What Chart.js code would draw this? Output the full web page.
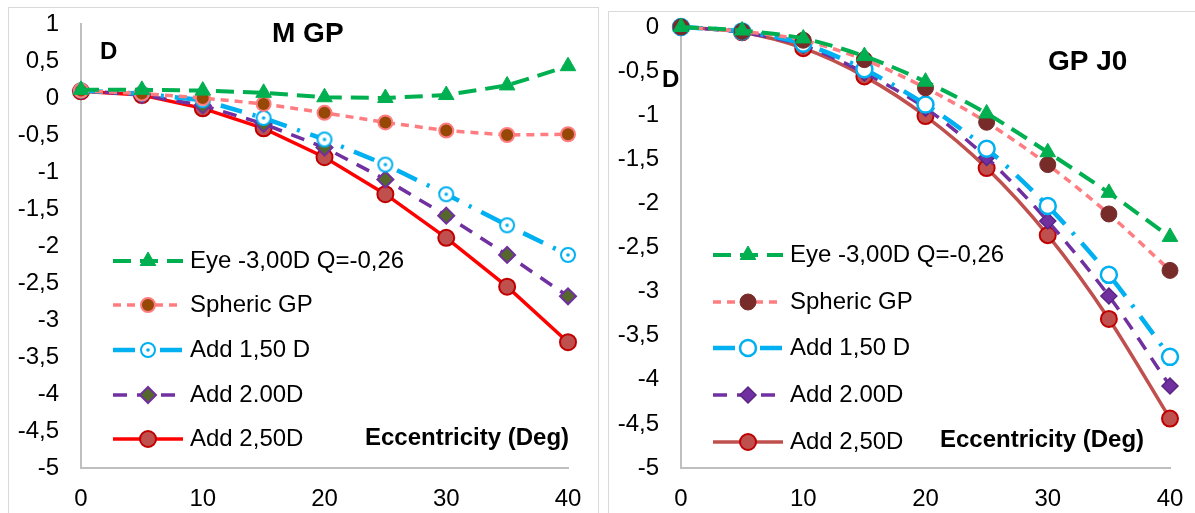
<!DOCTYPE html>
<html>
<head>
<meta charset="utf-8">
<script src="https://cdn.jsdelivr.net/npm/chart.js@4.4.1/dist/chart.umd.min.js"></script>
<style>
  body { margin: 0; background: #fff; width: 1195px; height: 513px; overflow: hidden; position: relative; }
  .panel { position: absolute; border: 1px solid #d9d9d9; box-sizing: border-box; }
  #p1 { left: 8px; top: 7px; width: 591px; height: 530px; }
  #p2 { left: 608px; top: 11px; width: 620px; height: 530px; }
  canvas { position: absolute; }
  #c1 { left: 8px; top: 7px; width: 590px; height: 506px; }
  #c2 { left: 608px; top: 11px; width: 587px; height: 502px; }
</style>
</head>
<body>
<div class="panel" id="p1"></div>
<div class="panel" id="p2"></div>
<canvas id="c1" width="590" height="506"></canvas>
<canvas id="c2" width="587" height="502"></canvas>
<script>
// data ===========

const eccentricity = [0, 5, 10, 15, 20, 25, 30, 35, 40];
const seriesNames = ["Eye -3,00D Q=-0,26", "Spheric GP", "Add 1,50 D", "Add 2.00D", "Add 2,50D"];

// M GP panel
const mgpEye = [0.11, 0.11, 0.1, 0.07, 0.01, 0.0, 0.04, 0.17, 0.43];
const mgpSpheric = [0.1, 0.06, 0.0, -0.08, -0.2, -0.33, -0.44, -0.5, -0.49];
const mgpAdd150 = [0.1, 0.06, -0.03, -0.27, -0.56, -0.9, -1.3, -1.72, -2.12];
const mgpAdd200 = [0.1, 0.04, -0.1, -0.35, -0.67, -1.1, -1.59, -2.12, -2.68];
const mgpAdd250 = [0.09, 0.04, -0.14, -0.41, -0.8, -1.3, -1.89, -2.55, -3.3];

// GP J0 panel
const j0Eye = [0, -0.04, -0.13, -0.33, -0.62, -0.98, -1.42, -1.88, -2.38];
const j0Spheric = [0, -0.05, -0.15, -0.37, -0.69, -1.08, -1.56, -2.12, -2.76];
const j0Add150 = [0, -0.05, -0.19, -0.48, -0.88, -1.38, -2.03, -2.81, -3.74];
const j0Add200 = [0, -0.06, -0.21, -0.52, -0.92, -1.48, -2.2, -3.05, -4.07];
const j0Add250 = [0, -0.06, -0.24, -0.56, -1.01, -1.6, -2.36, -3.31, -4.44];

// end data ===========

const FONT = "'Liberation Sans', Arial, sans-serif";
Chart.defaults.font.family = FONT;
Chart.defaults.color = "#000";

// open circle with a dot (left Add 1,50 D marker)
function dotCircle() {
  const c = document.createElement("canvas");
  c.width = 18; c.height = 18;
  const g = c.getContext("2d");
  g.beginPath(); g.arc(9, 9, 7, 0, Math.PI * 2);
  g.fillStyle = "#fff"; g.fill();
  g.lineWidth = 2; g.strokeStyle = "#00B0F0"; g.stroke();
  g.beginPath(); g.arc(9, 9, 1.8, 0, Math.PI * 2);
  g.fillStyle = "#00B0F0"; g.fill();
  return c;
}

const leftStyles = [
  { borderColor: "#00B050", borderWidth: 4, borderDash: [18, 9], pointStyle: "triangle", pointRadius: 9, pointBackgroundColor: "#00B050", pointBorderColor: "#00B050", pointBorderWidth: 1 },
  { borderColor: "#FF7C80", borderWidth: 3.5, borderDash: [8, 6], pointStyle: "circle", pointRadius: 7, pointBackgroundColor: "#974706", pointBorderColor: "#FF7C80", pointBorderWidth: 2 },
  { borderColor: "#00B0F0", borderWidth: 4.5, borderDash: [22, 11, 3, 11], pointStyle: dotCircle(), pointRadius: 7, pointBackgroundColor: "#fff", pointBorderColor: "#00B0F0", pointBorderWidth: 2 },
  { borderColor: "#7030A0", borderWidth: 3.5, borderDash: [14, 10], pointStyle: "rectRot", pointRadius: 8, pointBackgroundColor: "#56672C", pointBorderColor: "#7030A0", pointBorderWidth: 2 },
  { borderColor: "#FF0000", borderWidth: 3.5, borderDash: [], pointStyle: "circle", pointRadius: 8, pointBackgroundColor: "#C0504D", pointBorderColor: "#C00000", pointBorderWidth: 2 },
];

const rightStyles = [
  { borderColor: "#00B050", borderWidth: 4, borderDash: [18, 9], pointStyle: "triangle", pointRadius: 9, pointBackgroundColor: "#00B050", pointBorderColor: "#00B050", pointBorderWidth: 1 },
  { borderColor: "#FF7C80", borderWidth: 3.5, borderDash: [8, 6], pointStyle: "circle", pointRadius: 8, pointBackgroundColor: "#772C2A", pointBorderColor: "#772C2A", pointBorderWidth: 1 },
  { borderColor: "#00B0F0", borderWidth: 4.5, borderDash: [22, 11, 3, 11], pointStyle: "circle", pointRadius: 8, pointBackgroundColor: "#fff", pointBorderColor: "#00B0F0", pointBorderWidth: 2.5 },
  { borderColor: "#7030A0", borderWidth: 3.5, borderDash: [14, 10], pointStyle: "rectRot", pointRadius: 8, pointBackgroundColor: "#7030A0", pointBorderColor: "#5A2585", pointBorderWidth: 1.5 },
  { borderColor: "#C0504D", borderWidth: 3.5, borderDash: [], pointStyle: "circle", pointRadius: 8, pointBackgroundColor: "#C0504D", pointBorderColor: "#C00000", pointBorderWidth: 2 },
];

// legend + free text drawn in the plot
const panelText = {
  id: "panelText",
  afterDatasetsDraw(chart, args, o) {
    const ctx = chart.ctx;
    ctx.save();
    chart.data.datasets.forEach((ds, i) => {
      const y = o.rows[i];
      ctx.beginPath();
      ctx.setLineDash(ds.borderDash || []);
      ctx.lineWidth = ds.borderWidth;
      ctx.strokeStyle = ds.borderColor;
      ctx.moveTo(o.lineFrom, y);
      ctx.lineTo(o.lineTo, y);
      ctx.stroke();
      ctx.setLineDash([]);
      ctx.fillStyle = ds.pointBackgroundColor;
      ctx.strokeStyle = ds.pointBorderColor;
      ctx.lineWidth = ds.pointBorderWidth;
      Chart.helpers.drawPoint(ctx, { pointStyle: ds.pointStyle, radius: ds.pointRadius, rotation: 0, borderWidth: ds.pointBorderWidth }, (o.lineFrom + o.lineTo) / 2, y);
      ctx.fillStyle = "#000";
      ctx.font = "24px " + FONT;
      ctx.textBaseline = "middle";
      ctx.textAlign = "left";
      ctx.fillText(ds.label, o.textX, y);
    });
    ctx.textBaseline = "alphabetic";
    o.texts.forEach(t => {
      ctx.font = t.font + " " + FONT;
      ctx.fillText(t.text, t.x, t.y);
    });
    ctx.restore();
  },
};

function makeChart(id, series, styles, yMin, yMax, pad, extra) {
  const datasets = series.map((vals, i) => Object.assign({
    label: seriesNames[i],
    data: eccentricity.map((x, k) => ({ x: x, y: vals[k] })),
    fill: false,
    clip: false,
    tension: extra.tension,
  }, styles[i]));

  return new Chart(document.getElementById(id).getContext("2d"), {
    type: "line",
    data: { datasets: datasets },
    plugins: [panelText],
    options: {
      responsive: false,
      animation: false,
      layout: { padding: pad },
      plugins: {
        legend: { display: false },
        tooltip: { enabled: false },
        panelText: extra.text,
      },
      scales: {
        x: {
          type: "linear", min: 0, max: 40,
          ticks: { stepSize: 10, padding: 17, font: { size: 24 } },
          grid: { drawOnChartArea: false, drawTicks: false },
          border: { color: "#BFBFBF", width: 2 },
          afterFit: s => { s.height = 45; s.paddingLeft = 0; s.paddingRight = 0; },
        },
        y: {
          min: yMin, max: yMax,
          ticks: { stepSize: 0.5, padding: 22, font: { size: 24 }, callback: v => String(v).replace(".", ",") },
          grid: { drawOnChartArea: false, drawTicks: false },
          border: { color: "#BFBFBF", width: 2 },
          afterFit: s => { s.width = 73; s.paddingTop = 0; s.paddingBottom = 0; },
        },
      },
    },
  });
}

// M GP =====
makeChart("c1", [mgpEye, mgpSpheric, mgpAdd150, mgpAdd200, mgpAdd250], leftStyles, -5, 1,
  { top: 17, right: 30, left: 0, bottom: 0 },
  {
    tension: 0,
    text: {
      lineFrom: 105, lineTo: 175, textX: 182,
      rows: [254, 298, 343, 388, 432],
      texts: [
        { text: "M GP", x: 264, y: 35, font: "bold 28px" },
        { text: "D", x: 92, y: 52, font: "bold 24px" },
        { text: "Eccentricity (Deg)", x: 357, y: 438, font: "bold 24px" },
      ],
    },
  });

// GP J0 =====
makeChart("c2", [j0Eye, j0Spheric, j0Add150, j0Add200, j0Add250], rightStyles, -5, 0,
  { top: 16, right: 25, left: 0, bottom: 0 },
  {
    tension: 0.3,
    text: {
      lineFrom: 105, lineTo: 175, textX: 182,
      rows: [244, 291, 337, 384, 431],
      texts: [
        { text: "GP J0", x: 440, y: 59, font: "bold 28px" },
        { text: "D", x: 54, y: 76, font: "bold 24px" },
        { text: "Eccentricity (Deg)", x: 332, y: 436, font: "bold 24px" },
      ],
    },
  });
</script>
</body>
</html>
